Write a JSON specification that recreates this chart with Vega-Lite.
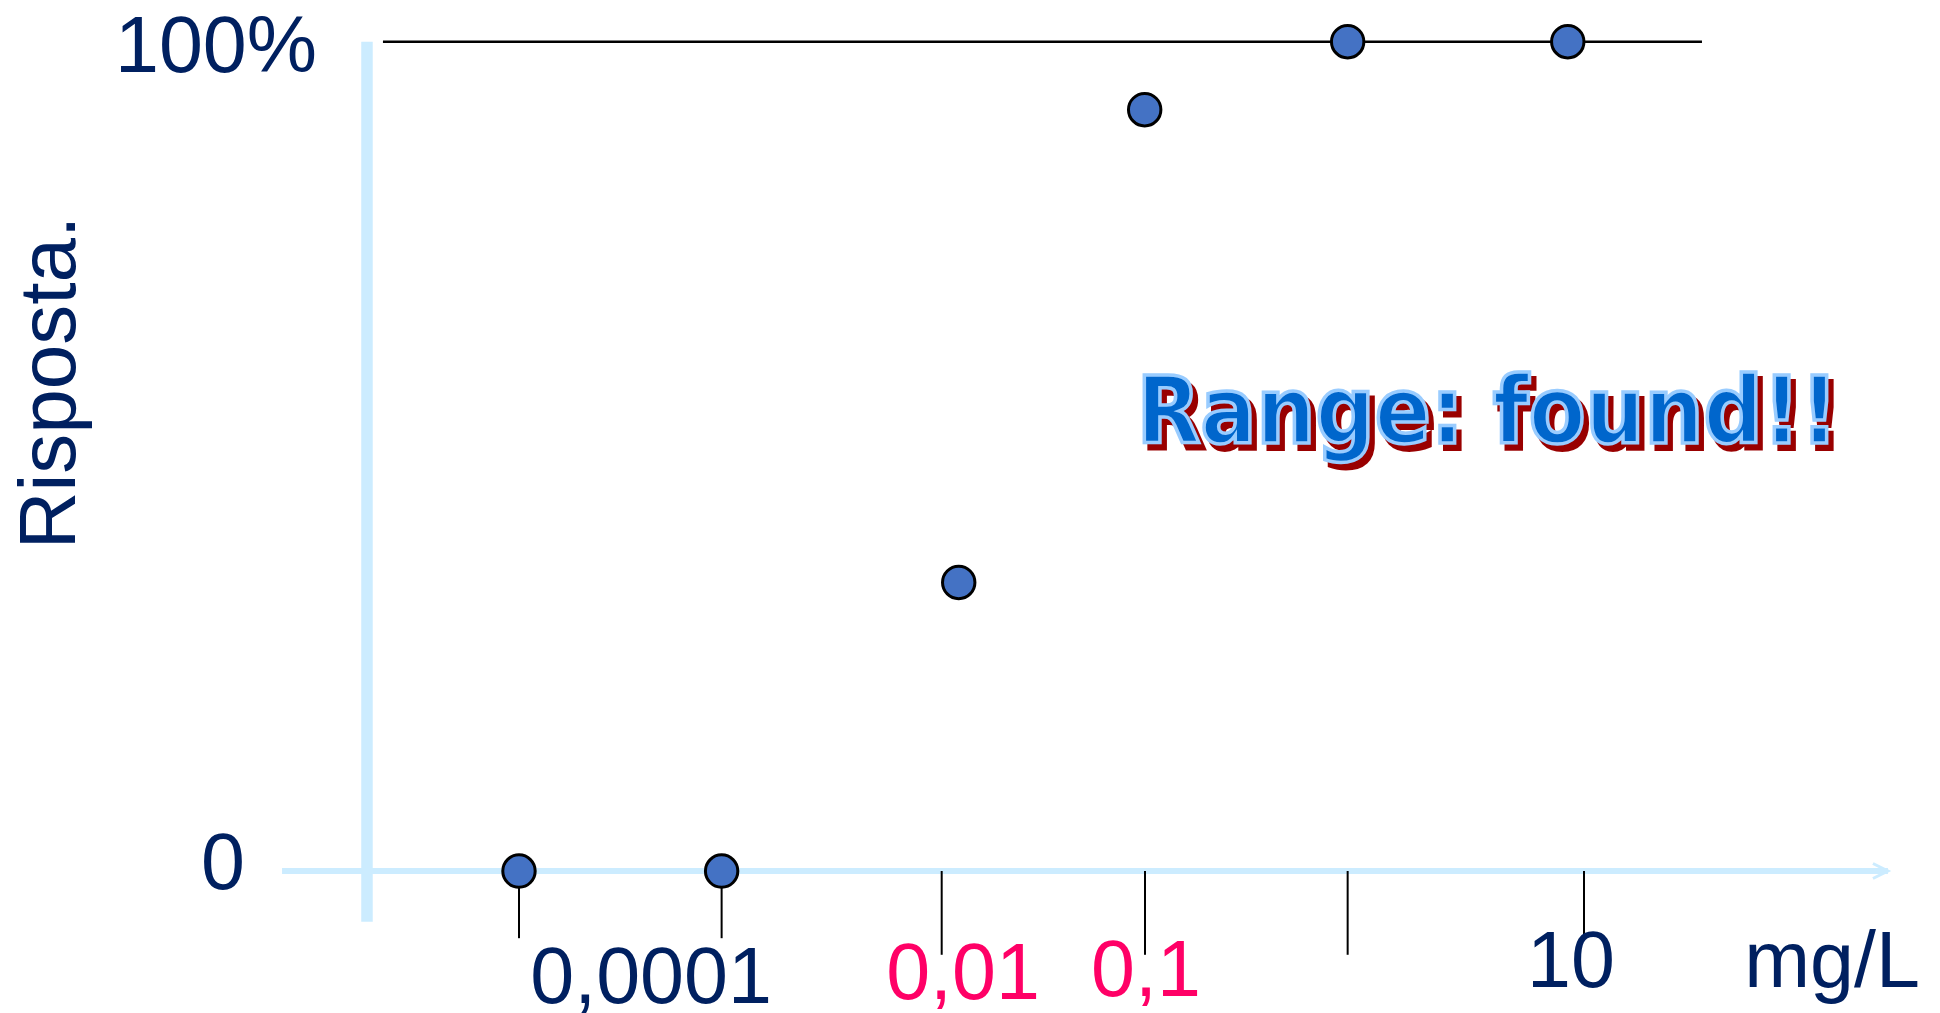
{
  "$schema": "https://vega.github.io/schema/vega-lite/v6.json",
  "width": 1940,
  "height": 1013,
  "padding": 0,
  "autosize": {"type": "none"},
  "background": "white",
  "config": {"view": {"stroke": null}},
  "datasets": {
    "axisH": [{"mgL": 7.72e-6, "mgL2": 267.3, "resp": 0}],
    "axisV": [{"mgL": 1.934e-5, "resp": 100, "resp2": -6.11}],
    "arrow": [{"mgL": 267.3, "resp": 0}],
    "topLine": [{"mgL": 2.298e-5, "mgL2": 35.8, "resp": 100}],
    "ticks": [
      {"mgL": 0.0001, "resp": 0, "resp2": -8.1},
      {"mgL": 0.000894, "resp": 0, "resp2": -8.1},
      {"mgL": 0.00965, "resp": 0, "resp2": -10.1},
      {"mgL": 0.0869, "resp": 0, "resp2": -10.1},
      {"mgL": 0.777, "resp": 0, "resp2": -10.1},
      {"mgL": 10, "resp": 0, "resp2": -8.1}
    ],
    "points": [
      {"mgL": 0.0001, "resp": 0},
      {"mgL": 0.000894, "resp": 0},
      {"mgL": 0.0116, "resp": 34.8},
      {"mgL": 0.0866, "resp": 91.8},
      {"mgL": 0.777, "resp": 100},
      {"mgL": 8.39, "resp": 100}
    ],
    "labels": [
      {"label": "0,0001", "mgL": 0.000417, "resp": -15.88, "inRange": false},
      {"label": "0,01", "mgL": 0.01215, "resp": -15.43, "inRange": true},
      {"label": "0,1", "mgL": 0.0878, "resp": -15.07, "inRange": true},
      {"label": "10", "mgL": 8.69, "resp": -13.99, "inRange": false},
      {"label": "mg/L", "mgL": 146, "resp": -13.99, "inRange": false},
      {"label": "0", "mgL": 4.08e-6, "resp": -2.17, "inRange": false},
      {"label": "100%", "mgL": 3.78e-6, "resp": 96.35, "inRange": false}
    ],
    "ytitle": [{"label": "Risposta.", "mgL": 8.23e-7, "resp": 58.9}],
    "banner": [{"label": "Range: found!!", "mgL": 3.524, "resp": 51.6}]
  },
  "encoding": {
    "x": {"field": "mgL", "type": "quantitative", "axis": null,
          "scale": {"type": "log", "domain": [3.66e-7, 469.2], "nice": false, "zero": false}},
    "y": {"field": "resp", "type": "quantitative", "axis": null,
          "scale": {"domain": [-17.12, 105.03], "nice": false, "zero": false}}
  },
  "layer": [
    {
      "data": {"name": "axisH"},
      "mark": {"type": "rule", "stroke": "#CCECFF", "strokeWidth": 6},
      "encoding": {"x2": {"field": "mgL2"}}
    },
    {
      "data": {"name": "axisV"},
      "mark": {"type": "rule", "stroke": "#CCECFF", "strokeWidth": 11.5},
      "encoding": {"y2": {"field": "resp2"}}
    },
    {
      "data": {"name": "arrow"},
      "mark": {"type": "point", "shape": "M-2,-1L0,0L-2,1", "size": 225, "filled": false, "stroke": "#CCECFF", "strokeWidth": 3, "opacity": 1}
    },
    {
      "data": {"name": "ticks"},
      "mark": {"type": "rule", "stroke": "#000000", "strokeWidth": 2},
      "encoding": {"y2": {"field": "resp2"}}
    },
    {
      "data": {"name": "topLine"},
      "mark": {"type": "rule", "stroke": "#000000", "strokeWidth": 2.5},
      "encoding": {"x2": {"field": "mgL2"}}
    },
    {
      "data": {"name": "points"},
      "mark": {"type": "point", "shape": "circle", "filled": true, "fill": "#4472C4", "stroke": "#000000", "strokeWidth": 3, "size": 1050, "opacity": 1}
    },
    {
      "data": {"name": "labels"},
      "mark": {"type": "text", "font": "Liberation Sans", "fontSize": 79, "align": "center", "baseline": "alphabetic"},
      "encoding": {
        "text": {"field": "label"},
        "color": {"field": "inRange", "type": "nominal", "legend": null,
                  "scale": {"domain": [false, true], "range": ["#002060", "#FF0066"]}}
      }
    },
    {
      "data": {"name": "ytitle"},
      "mark": {"type": "text", "font": "Liberation Sans", "fontSize": 80, "align": "center", "baseline": "alphabetic", "angle": 270, "fill": "#002060"},
      "encoding": {"text": {"field": "label"}}
    },
    {
      "data": {"name": "banner"},
      "mark": {"type": "text", "font": "DejaVu Sans Condensed", "fontWeight": "bold", "fontSize": 92, "align": "center", "baseline": "alphabetic", "fill": "#990000", "stroke": "#990000", "strokeWidth": 4, "dx": 5, "dy": 6},
      "encoding": {"text": {"field": "label"}}
    },
    {
      "data": {"name": "banner"},
      "mark": {"type": "text", "font": "DejaVu Sans Condensed", "fontWeight": "bold", "fontSize": 92, "align": "center", "baseline": "alphabetic", "fill": "#0066CC", "stroke": "#99CCFF", "strokeWidth": 3.5},
      "encoding": {"text": {"field": "label"}}
    }
  ]
}
